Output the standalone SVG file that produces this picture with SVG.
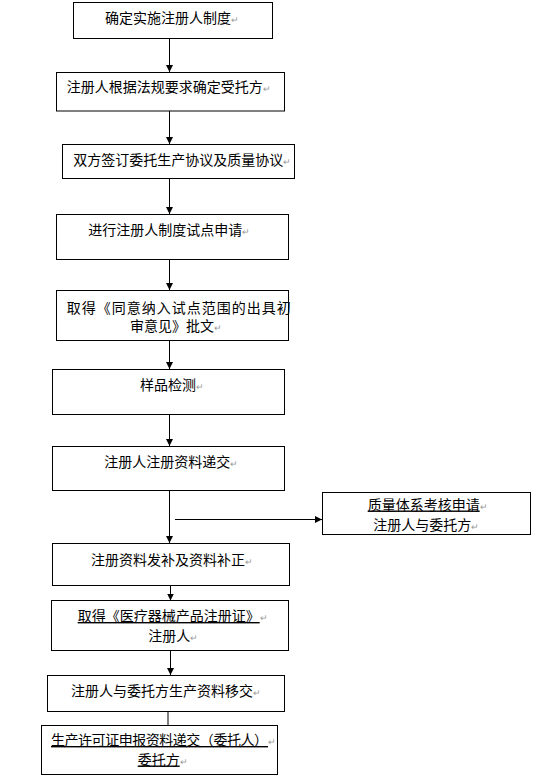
<svg xmlns="http://www.w3.org/2000/svg" width="558" height="782" viewBox="0 0 558 782">
<defs>
<marker id="ah" markerUnits="userSpaceOnUse" markerWidth="8" markerHeight="8" refX="7" refY="3.5" orient="auto">
<path d="M0,0 L7,3.5 L0,7 z" fill="#000"/>
</marker>
<style>
.box{fill:#fff;stroke:#000;stroke-width:1}
.t{font-family:"Noto Sans CJK SC","Liberation Sans",sans-serif;font-size:14px;fill:#000}
.pm{font-size:9px;fill:#999}
.u{text-decoration:underline}
.c{stroke:#000;stroke-width:1;fill:none;marker-end:url(#ah)}
</style>
</defs>
<rect width="558" height="782" fill="#fff"/>
<g id="connectors">
<line class="c" x1="169.5" y1="38.5" x2="169.5" y2="72"/>
<line class="c" x1="169.5" y1="111" x2="169.5" y2="144"/>
<line class="c" x1="169.5" y1="178.5" x2="169.5" y2="214"/>
<line class="c" x1="169.5" y1="259.5" x2="169.5" y2="290"/>
<line class="c" x1="169.5" y1="340.5" x2="169.5" y2="369"/>
<line class="c" x1="169.5" y1="414.5" x2="169.5" y2="446"/>
<line class="c" x1="169.5" y1="490.5" x2="169.5" y2="543"/>
<line class="c" x1="175" y1="519.5" x2="322" y2="519.5"/>
<line class="c" x1="170.5" y1="585.5" x2="170.5" y2="600.5"/>
<line class="c" x1="170.5" y1="650.5" x2="170.5" y2="675"/>
<line class="c" x1="168" y1="711.5" x2="168" y2="735"/>
</g>
<g id="n1"><rect class="box" x="73.5" y="2.5" width="199" height="36"/>
<text class="t" x="105" y="22.5">确定实施注册人制度<tspan class="pm">↵</tspan></text></g>
<g id="n2"><rect class="box" x="56.5" y="72.5" width="228" height="38.5"/>
<text class="t" x="66.7" y="92">注册人根据法规要求确定受托方<tspan class="pm">↵</tspan></text></g>
<g id="n3"><rect class="box" x="62.5" y="144.5" width="232" height="34"/>
<text class="t" x="73.3" y="164.5">双方签订委托生产协议及质量协议<tspan class="pm">↵</tspan></text></g>
<g id="n4"><rect class="box" x="56.5" y="214.5" width="232" height="45"/>
<text class="t" x="88.3" y="234.5">进行注册人制度试点申请<tspan class="pm">↵</tspan></text></g>
<g id="n5"><rect class="box" x="56.5" y="290.5" width="232" height="50"/>
<text class="t" x="66.7" y="312.8" letter-spacing="1">取得《同意纳入试点范围的出具初</text>
<text class="t" x="130" y="331">审意见》批文<tspan class="pm">↵</tspan></text></g>
<g id="n6"><rect class="box" x="52.5" y="369.5" width="232" height="45"/>
<text class="t" x="140" y="389.5">样品检测<tspan class="pm">↵</tspan></text></g>
<g id="n7"><rect class="box" x="52.5" y="446.5" width="232" height="44"/>
<text class="t" x="104.3" y="466.8">注册人注册资料递交<tspan class="pm">↵</tspan></text></g>
<g id="n8"><rect class="box" x="52.5" y="543.5" width="237" height="42"/>
<text class="t" x="91" y="565">注册资料发补及资料补正<tspan class="pm">↵</tspan></text></g>
<g id="n9"><rect class="box" x="322.5" y="492.5" width="208" height="42"/>
<text class="t" x="367.7" y="509.5"><tspan class="u">质量体系考核申请</tspan><tspan class="pm">↵</tspan></text>
<text class="t" x="373.3" y="529.5">注册人与委托方<tspan class="pm">↵</tspan></text></g>
<g id="n10"><rect class="box" x="51.5" y="600.5" width="237" height="50"/>
<text class="t" x="77.7" y="621"><tspan class="u">取得《医疗器械产品注册证》</tspan><tspan class="pm">↵</tspan></text>
<text class="t" x="148.3" y="641">注册人<tspan class="pm">↵</tspan></text></g>
<g id="n11"><rect class="box" x="47.5" y="675.5" width="237" height="36"/>
<text class="t" x="71" y="696">注册人与委托方生产资料移交<tspan class="pm">↵</tspan></text></g>
<g id="n12"><rect class="box" x="41.5" y="725.5" width="236" height="49"/>
<text class="t" x="51" y="745"><tspan class="u" textLength="217" lengthAdjust="spacing">生产许可证申报资料递交（委托人）</tspan><tspan class="pm">↵</tspan></text>
<text class="t" x="137.7" y="764.5"><tspan class="u">委托方</tspan><tspan class="pm">↵</tspan></text></g>
</svg>
